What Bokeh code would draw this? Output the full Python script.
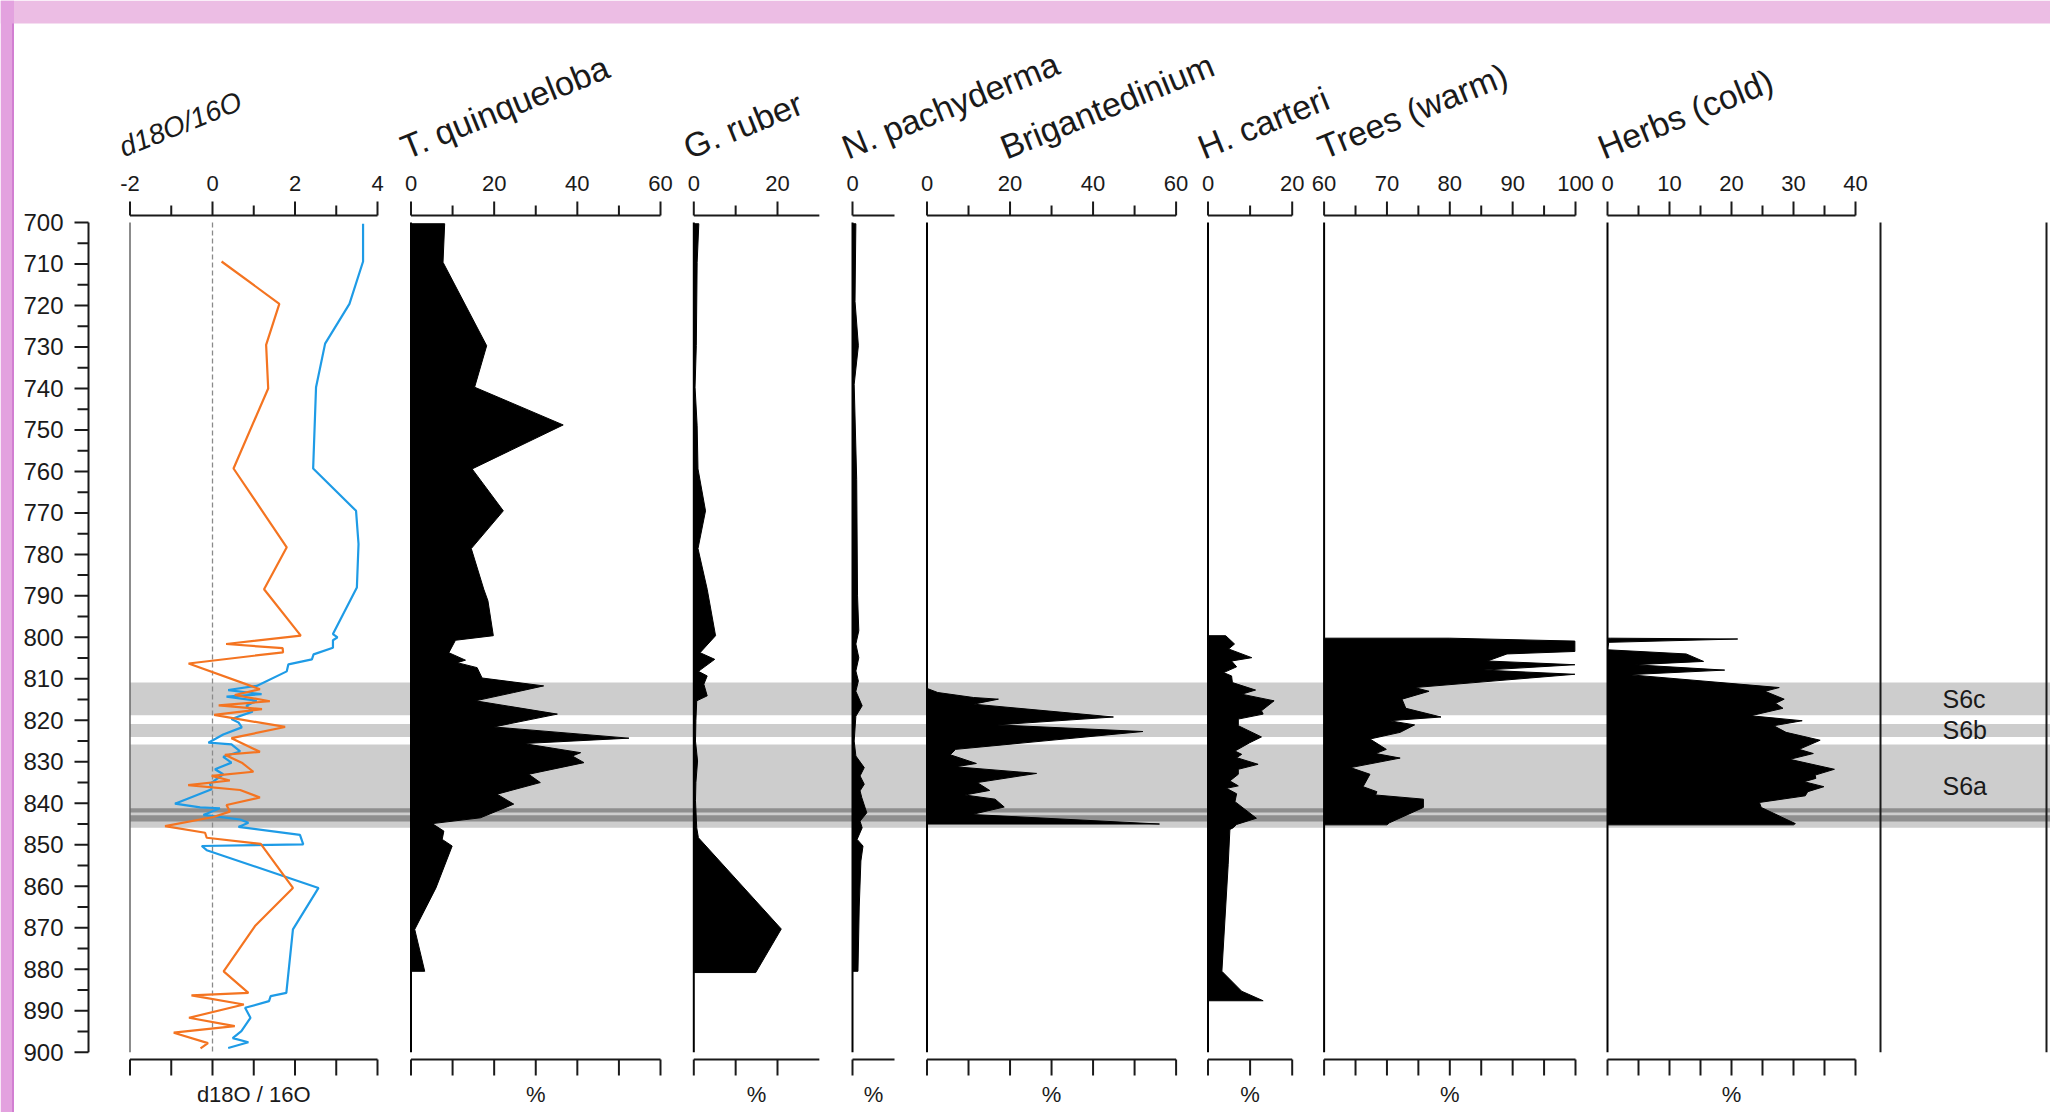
from bokeh.plotting import figure
from bokeh.models import Range1d
from bokeh.core.properties import value
from bokeh.embed import file_html
from bokeh.resources import INLINE

# ------------------------------------------------------------------ data
# depth axis
depth_major = [700, 710, 720, 730, 740, 750, 760, 770, 780, 790, 800,
               810, 820, 830, 840, 850, 860, 870, 880, 890, 900]
depth_minor = [705, 715, 725, 735, 745, 755, 765, 775, 785, 795,
               805, 815, 825, 835, 845, 855, 865, 875, 885, 895]
depth_labels = [str(d) for d in depth_major]

# d18O / 16O  (orange and blue series)
o_depth = [709.4, 719.6, 729.5, 740.0, 759.3, 778.3, 788.4, 799.6, 801.6, 802.6,
           803.6, 806.3, 812.5, 813.9, 815.4, 816.4, 817.3, 818.7, 821.6, 824.3,
           827.6, 828.3, 830.2, 832.4, 833.4, 834.5, 835.6, 836.8, 838.6, 840.4,
           842.0, 843.3, 845.5, 847.1, 848.3, 849.8, 860.4, 869.6, 880.5, 885.7,
           886.3, 888.5, 891.7, 893.7, 895.3, 897.8, 899.1]
o_val = [0.22, 1.62, 1.30, 1.35, 0.51, 1.80, 1.25, 2.14, 0.33, 1.70,
         1.71, -0.58, 1.15, 0.54, 1.39, 0.15, 1.20, 0.04, 1.76, 0.46,
         1.15, 0.30, 0.71, 0.99, -0.02, 0.42, -0.59, 0.67, 1.15, 0.34,
         0.42, 0.02, -1.15, -0.18, -0.14, 1.17, 1.95, 1.03, 0.27, 0.87,
         -0.51, 0.76, -0.57, 0.54, -0.94, -0.11, -0.29]

b_depth = [700.3, 709.4, 719.6, 729.2, 739.7, 759.3, 769.5, 777.5, 788.0, 799.2,
           800.0, 800.7, 802.5, 804.1, 805.3, 806.5, 808.2, 811.7, 812.7, 813.7,
           814.3, 815.3, 816.5, 817.9, 819.7, 820.5, 821.7, 823.4, 825.4, 825.8,
           827.5, 828.8, 830.2, 831.8, 833.0, 835.3, 836.6, 840.1, 841.0, 841.2,
           842.8, 843.9, 844.7, 845.7, 847.6, 849.9, 850.3, 851.3, 860.4, 870.4,
           885.7, 886.5, 887.7, 889.3, 891.7, 894.9, 896.6, 897.6, 899.0]
b_val = [3.65, 3.65, 3.32, 2.73, 2.51, 2.44, 3.48, 3.54, 3.50, 2.92,
         3.03, 2.92, 2.92, 2.45, 2.41, 1.84, 1.80, 1.07, 0.38, 1.19,
         0.34, 1.07, 0.82, 0.97, 0.46, 0.63, 0.71, 0.26, -0.10, 0.46,
         0.67, 0.26, 0.46, 0.06, 0.26, -0.06, -0.02, -0.91, -0.30, 0.18,
         -0.22, 0.67, 0.87, 0.63, 2.12, 2.20, -0.26, -0.14, 2.57, 1.95,
         1.79, 1.41, 1.37, 0.79, 0.92, 0.70, 0.49, 0.87, 0.38]

# T. quinqueloba (%)
tq_depth = [700.3, 709.6, 729.7, 739.7, 748.8, 759.4, 769.5, 778.6, 788.4, 791.2,
            799.6, 800.7, 803.7, 805.5, 806.1, 807.3, 809.8, 811.7, 813.3, 815.3,
            818.5, 821.6, 824.3, 825.6, 827.8, 828.6, 830.2, 833.0, 835.0, 837.8,
            840.2, 843.5, 844.9, 846.7, 848.7, 850.3, 860.4, 870.4, 880.5]
tq_val = [8.1, 7.7, 18.2, 15.3, 36.6, 14.7, 22.2, 14.5, 17.5, 18.5,
          19.8, 10.7, 9.1, 13.1, 11.1, 15.9, 17.1, 31.9, 24.7, 15.5,
          35.2, 19.9, 52.4, 27.1, 40.8, 38.8, 41.6, 28.3, 31.1, 20.7,
          24.7, 16.7, 5.1, 7.9, 7.5, 9.9, 6.0, 0.9, 3.3]

# G. ruber (%)
gr_depth = [700.3, 709.6, 729.7, 739.7, 749.0, 759.4, 769.5, 778.6, 788.4, 799.6,
            803.7, 805.3, 808.2, 809.3, 811.3, 814.1, 815.3, 820.0, 825.0, 829.8,
            835.0, 839.4, 845.9, 848.3, 870.3, 880.8]
gr_val = [1.2, 0.8, 0.6, 0.3, 0.8, 1.0, 2.8, 1.0, 3.2, 5.2,
          1.5, 5.0, 1.1, 3.2, 2.4, 3.2, 0.7, 0.5, 0.4, 0.9,
          0.5, 0.4, 0.7, 1.1, 20.9, 14.8]

# N. pachyderma (%)
np_depth = [700.3, 719.0, 729.7, 739.0, 762.0, 790.0, 798.4, 801.6, 804.9, 808.1,
            810.5, 813.0, 816.5, 819.0, 825.0, 828.6, 831.4, 833.4, 835.4, 837.0,
            838.6, 842.3, 844.3, 845.9, 848.7, 850.3, 853.9, 865.0, 880.5]
np_val = [0.8, 0.6, 1.4, 0.4, 1.0, 1.2, 1.5, 0.8, 1.5, 0.8,
          1.4, 0.8, 2.3, 0.8, 0.4, 0.8, 2.8, 1.8, 2.8, 1.8,
          2.2, 3.4, 1.8, 2.3, 1.1, 2.5, 2.0, 1.6, 1.3]

# Brigantedinium (%)
br_depth = [812.3, 813.3, 814.5, 814.9, 816.1, 819.2, 821.1, 822.7, 827.0, 828.3,
            830.4, 831.2, 832.8, 835.0, 836.9, 838.0, 839.0, 840.9, 842.7, 845.0]
br_val = [0.0, 2.6, 11.2, 17.2, 11.2, 44.9, 16.9, 52.0, 6.9, 5.6,
          11.9, 6.9, 26.4, 12.1, 15.1, 9.1, 16.4, 18.6, 10.8, 56.0]

# H. carteri (%)
hc_depth = [799.6, 801.6, 802.8, 804.9, 805.7, 807.1, 808.5, 809.3, 810.9, 812.7,
            813.7, 815.3, 817.7, 818.5, 819.7, 821.3, 824.0, 825.4, 827.4, 828.2,
            829.0, 830.6, 831.8, 833.0, 834.6, 835.8, 836.4, 837.7, 839.6, 843.6,
            845.1, 845.9, 846.3, 854.7, 880.5, 885.3, 887.6]
hc_val = [4.2, 6.3, 4.9, 10.4, 5.6, 6.8, 3.7, 5.6, 5.8, 11.3,
          8.0, 15.7, 12.7, 13.1, 7.2, 7.2, 12.7, 9.9, 6.4, 8.0,
          6.8, 11.9, 7.2, 7.2, 5.2, 7.2, 4.4, 6.8, 6.4, 11.5,
          6.8, 6.0, 5.2, 4.8, 3.3, 8.0, 13.1]

# Trees (warm) (%)
tr_depth = [800.2, 800.9, 803.4, 804.0, 805.7, 806.6, 807.9, 808.9, 812.1, 813.0,
            814.9, 817.1, 819.2, 820.1, 821.1, 822.9, 824.5, 827.0, 828.0, 829.1,
            831.4, 833.0, 836.0, 837.2, 838.0, 839.0, 841.0, 844.7, 845.2]
tr_val = [80.0, 99.9, 99.9, 89.1, 86.0, 99.9, 85.4, 99.9, 74.4, 76.7,
          72.4, 73.0, 78.6, 70.4, 74.4, 72.1, 67.3, 69.9, 68.2, 72.1,
          64.2, 67.3, 66.2, 68.4, 68.2, 75.8, 75.8, 70.4, 70.0]

# Herbs (cold) (%)
hb_depth = [800.2, 800.4, 801.2, 803.0, 804.0, 805.8, 806.6, 807.9, 809.0, 812.1,
            813.0, 814.9, 815.9, 817.1, 818.9, 820.1, 821.3, 822.9, 824.8, 827.0,
            828.0, 829.4, 831.8, 833.2, 834.0, 834.8, 836.0, 837.2, 838.2, 839.8,
            841.0, 844.9, 845.2]
hb_val = [0.5, 21.0, 0.2, 0.0, 12.7, 15.5, 4.3, 18.9, 3.4, 27.7,
          25.4, 28.5, 27.1, 28.3, 23.1, 31.4, 26.8, 28.8, 34.3, 30.9,
          33.2, 29.4, 36.6, 33.5, 33.6, 31.7, 34.9, 32.3, 31.9, 24.5,
          24.8, 30.3, 30.0]

# zones (depth intervals)
zone_names = ["S6c", "S6b", "S6a"]
zone_top = [810.9, 820.9, 825.8]
zone_bottom = [818.8, 824.0, 845.9]
dark_top = [841.2, 842.9]
dark_bottom = [842.2, 844.4]

# panel titles, axis ticks and tick labels
titles = ["d18O/16O", "T. quinqueloba", "G. ruber", "N. pachyderma",
          "Brigantedinium", "H. carteri", "Trees (warm)", "Herbs (cold)"]
bottom_labels = ["d18O / 16O", "%", "%", "%", "%", "%", "%", "%"]
axis_extent = [(-2, 4), (0, 60), (0, 30), (0, 10), (0, 60), (0, 20), (60, 100), (0, 40)]
major_ticks = [[-2, 0, 2, 4], [0, 20, 40, 60], [0, 20], [0], [0, 20, 40, 60],
               [0, 20], [60, 70, 80, 90, 100], [0, 10, 20, 30, 40]]
minor_ticks = [[-1, 1, 3], [10, 30, 50], [10], [], [10, 30, 50],
               [10], [65, 75, 85, 95], [5, 15, 25, 35]]
tick_labels = [[str(t) for t in m] for m in major_ticks]

# ------------------------------------------------------------------ layout
W, H = 2050, 1112
OX, OY = 0, 0
FONT = value("Liberation Sans")
INK = "#1a1a1a"

# panel placement: (name, value0, page_x0, value1, page_x1)
panels = [
    ("d18o", -2, 129.5, 4, 377.0),
    ("tq", 0, 410.5, 60, 660.0),
    ("gr", 0, 693.3, 20, 777.0),
    ("np", 0, 852.0, 10, 894.0),
    ("br", 0, 926.5, 60, 1175.6),
    ("hc", 0, 1207.5, 20, 1291.7),
    ("tr", 60, 1323.6, 100, 1575.0),
    ("hb", 0, 1607.0, 40, 1855.0),
]
title_x = [120.0, 401.8, 684.6, 843.0, 1001.5, 1199.0, 1319.0, 1599.0]
title_size = ["28px", "34px", "34px", "34px", "34px", "34px", "34px", "34px"]
title_y = 148
empty_panel_x = [1880.0, 2046.0]
depth_axis_x = 88
top_axis_y, bottom_axis_y = 215, 1059


def xr(v0, p0, v1, p1):
    s = (p1 - p0) / (v1 - v0)
    start = v0 - (p0 - OX) / s
    return Range1d(start, start + W / s)


def depth_range(d0, y0, d1, y1):
    s = (y1 - y0) / (d1 - d0)
    top = d0 - (y0 - OY) / s
    return Range1d(top + H / s, top)


p = figure(width=W, height=H, output_backend="svg", toolbar_location=None,
           x_axis_type=None, y_axis_type=None, min_border=0,
           x_range=Range1d(OX, OX + W),
           y_range=depth_range(700, 222, 900, 1051.7))
p.outline_line_color = None
p.background_fill_color = "white"
p.border_fill_color = "white"
p.extra_y_ranges = {"py": Range1d(OY + H, OY)}
p.extra_x_ranges = {name: xr(v0, p0, v1, p1) for name, v0, p0, v1, p1 in panels}

# slide background strips
p.quad(left=[OX], right=[OX + W], top=[OY], bottom=[23], y_range_name="py",
       color="#ecbde4", line_color=None)
p.quad(left=[OX], right=[13.5], top=[OY], bottom=[OY + H], y_range_name="py",
       color="#e3a2df", line_color=None)
p.segment(x0=[12.5], x1=[12.5], y0=[23], y1=[OY + H], y_range_name="py",
          color="#d27fd2", line_width=2)

# zone bands
band_left = panels[0][2]
p.quad(left=band_left, right=OX + W, top=zone_top, bottom=zone_bottom,
       color="#cdcdcd", line_color=None)
p.quad(left=band_left, right=OX + W, top=dark_top, bottom=dark_bottom,
       color="#8e8e8e", line_color=None)
p.text(x=1942, y=[(a + b) / 2 for a, b in zip(zone_top, zone_bottom)], text=zone_names,
       text_font=FONT, text_font_size="25px", text_color=INK,
       text_align="left", text_baseline="middle")

# depth axis
p.segment(x0=[depth_axis_x], x1=[depth_axis_x], y0=[depth_major[0]], y1=[depth_major[-1]],
          color=INK, line_width=2)
p.segment(x0=depth_axis_x - 14, x1=depth_axis_x, y0=depth_major, y1=depth_major,
          color=INK, line_width=2)
p.segment(x0=depth_axis_x - 11, x1=depth_axis_x, y0=depth_minor, y1=depth_minor,
          color=INK, line_width=2)
p.text(x=depth_axis_x - 25, y=depth_major, text=depth_labels, text_font=FONT,
       text_font_size="24px", text_color=INK, text_align="right", text_baseline="middle")


def silhouette(name, depth, vals, base):
    xs = [base] + list(vals) + [base]
    ys = [depth[0]] + list(depth) + [depth[-1]]
    p.patch(x=xs, y=ys, x_range_name=name, fill_color="black",
            line_color="black", line_width=1)


silhouette("tq", tq_depth, tq_val, 0)
silhouette("gr", gr_depth, gr_val, 0)
silhouette("np", np_depth, np_val, 0)
silhouette("br", br_depth, br_val, 0)
silhouette("hc", hc_depth, hc_val, 0)
silhouette("tr", tr_depth, tr_val, 60)
silhouette("hb", hb_depth, hb_val, 0)

# panel axes, baselines and labels
for i, (name, v0, p0, v1, p1) in enumerate(panels):
    lo, hi = axis_extent[i]
    base_color = "#666666" if name == "d18o" else "black"
    base_w = 1.5 if name == "d18o" else 2
    p.segment(x0=[lo], x1=[lo], y0=[depth_major[0]], y1=[depth_major[-1]],
              x_range_name=name, color=base_color, line_width=base_w)
    for ay in (top_axis_y, bottom_axis_y):
        p.segment(x0=[lo], x1=[hi], y0=[ay], y1=[ay], x_range_name=name,
                  y_range_name="py", color=INK, line_width=2)
    p.segment(x0=major_ticks[i], x1=major_ticks[i], y0=top_axis_y, y1=top_axis_y - 14,
              x_range_name=name, y_range_name="py", color=INK, line_width=2)
    if minor_ticks[i]:
        p.segment(x0=minor_ticks[i], x1=minor_ticks[i], y0=top_axis_y, y1=top_axis_y - 10,
                  x_range_name=name, y_range_name="py", color=INK, line_width=2)
    allt = major_ticks[i] + minor_ticks[i]
    p.segment(x0=allt, x1=allt, y0=bottom_axis_y, y1=bottom_axis_y + 16,
              x_range_name=name, y_range_name="py", color=INK, line_width=2)
    p.text(x=major_ticks[i], y=183, text=tick_labels[i], x_range_name=name,
           y_range_name="py", text_font=FONT, text_font_size="22px", text_color=INK,
           text_align="center", text_baseline="middle")
    p.text(x=[(lo + hi) / 2], y=[1094], text=[bottom_labels[i]], x_range_name=name,
           y_range_name="py", text_font=FONT, text_font_size="22px", text_color=INK,
           text_align="center", text_baseline="middle")
    p.text(x=[title_x[i]], y=[title_y], text=[titles[i]], y_range_name="py",
           angle=22, angle_units="deg", text_font=FONT, text_font_size=title_size[i],
           text_font_style="italic" if name == "d18o" else "normal",
           text_color=INK, text_align="left", text_baseline="alphabetic")

# empty panels on the right
p.segment(x0=empty_panel_x, x1=empty_panel_x, y0=depth_major[0], y1=depth_major[-1],
          color=INK, line_width=2)

# d18O zero reference and series
p.segment(x0=[0], x1=[0], y0=[depth_major[0]], y1=[depth_major[-1]], x_range_name="d18o",
          color="#8a8a8a", line_width=1.3, line_dash="5 3")
p.line(x=b_val, y=b_depth, x_range_name="d18o", color="#1e9be6", line_width=2.2)
p.line(x=o_val, y=o_depth, x_range_name="d18o", color="#f47421", line_width=2.2)

open("out.html", "w").write(file_html(p, INLINE))
